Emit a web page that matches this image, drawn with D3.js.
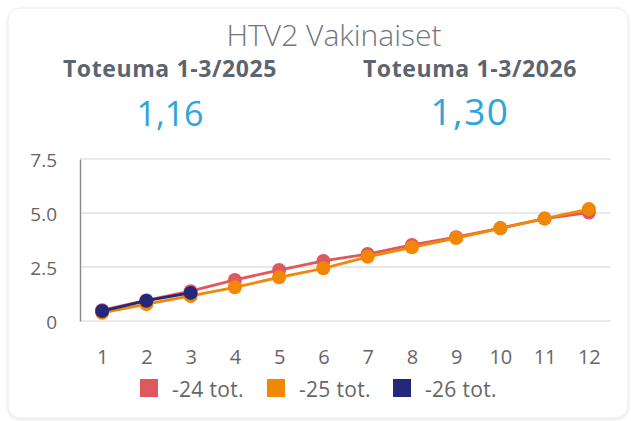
<!DOCTYPE html>
<html>
<head>
<meta charset="utf-8">
<script src="https://cdn.jsdelivr.net/npm/d3@7"></script>
<style>
  html, body { margin: 0; padding: 0; background: #fff; }
  svg { display: block; }
</style>
</head>
<body>
<svg id="chart" width="631" height="421"></svg>
<script>
// Months on the x axis
const months = [1, 2, 3, 4, 5, 6, 7, 8, 9, 10, 11, 12];
// Cumulative HTV2 values per series
const series24 = [0.50, 0.95, 1.38, 1.90, 2.36, 2.78, 3.10, 3.52, 3.88, 4.30, 4.74, 5.02];
const series25 = [0.38, 0.78, 1.16, 1.56, 2.02, 2.44, 2.97, 3.41, 3.84, 4.29, 4.74, 5.18];
const series26 = [0.46, 0.94, 1.30];
const seriesNames = ["-24 tot.", "-25 tot.", "-26 tot."];
const seriesColors = ["#e0575e", "#f28705", "#25287a"];
const yTicks = [0, 2.5, 5.0, 7.5];
const yTickLabels = ["0", "2.5", "5.0", "7.5"];
// Headline figures
const kpiLabels = ["Toteuma 1-3/2025", "Toteuma 1-3/2026"];
const kpiValues = ["1,16", "1,30"];

const svg = d3.select("#chart");
const font = "'Open Sans', 'Noto Sans', sans-serif";

// Card background
const defs = svg.append("defs");
const f = defs.append("filter").attr("id", "shadow").attr("x", "-5%").attr("y", "-5%").attr("width", "110%").attr("height", "110%");
f.append("feDropShadow").attr("dx", 0).attr("dy", 1).attr("stdDeviation", 1.5).attr("flood-color", "#000").attr("flood-opacity", 0.12);
svg.append("rect")
  .attr("x", 8).attr("y", 8).attr("width", 620).attr("height", 410)
  .attr("rx", 12).attr("fill", "#fff")
  .attr("stroke", "#ececec").attr("stroke-width", 1)
  .attr("filter", "url(#shadow)");

// Title
svg.append("text")
  .attr("x", 334).attr("y", 46).attr("text-anchor", "middle")
  .attr("font-family", font).attr("font-size", 30).attr("font-weight", 300)
  .attr("fill", "#6f7780")
  .text("HTV2 Vakinaiset");

// KPI labels and values
const kpiX = [170, 470];
const kpiSizes = [34, 37];
const kpiY = [126, 124.5];
kpiLabels.forEach((t, i) => {
  svg.append("text")
    .attr("x", kpiX[i]).attr("y", 77).attr("text-anchor", "middle")
    .attr("font-family", font).attr("font-size", 23).attr("font-weight", 700)
    .attr("fill", "#5b6570").attr("letter-spacing", 0.6)
    .text(t);
  svg.append("text")
    .attr("x", kpiX[i]).attr("y", kpiY[i]).attr("text-anchor", "middle")
    .attr("font-family", font).attr("font-size", kpiSizes[i])
    .attr("fill", "#2ba6dc").attr("letter-spacing", i === 1 ? 1.5 : 0)
    .text(kpiValues[i]);
});

// Plot scales
const plot = { left: 80, right: 611, top: 159, bottom: 321 };
const x = d3.scalePoint().domain(months).range([plot.left, plot.right]).padding(0.5);
const y = d3.scaleLinear().domain([0, 7.5]).range([plot.bottom, plot.top]);

// Horizontal gridlines
svg.append("g")
  .selectAll("line").data(yTicks).join("line")
  .attr("x1", plot.left).attr("x2", plot.right)
  .attr("y1", d => y(d)).attr("y2", d => y(d))
  .attr("stroke", "#d6d6d6").attr("stroke-width", 1.2);

// Y axis
const yAxis = svg.append("g")
  .attr("transform", `translate(${plot.left},0)`)
  .call(d3.axisLeft(y).tickValues(yTicks).tickSize(0).tickPadding(23)
    .tickFormat((d, i) => yTickLabels[i]));
yAxis.select(".domain").attr("stroke", "#8c8c8c").attr("stroke-width", 1.5);
yAxis.selectAll("text").attr("font-family", font).attr("font-size", 19)
  .attr("fill", "#666").attr("dy", "0.42em");

// X axis labels
const xAxis = svg.append("g")
  .attr("transform", `translate(0,${plot.bottom})`)
  .call(d3.axisBottom(x).tickSize(0).tickPadding(29));
xAxis.select(".domain").remove();
xAxis.selectAll("text").attr("font-family", font).attr("font-size", 20).attr("fill", "#666");

// Series lines and markers
const allSeries = [series24, series25, series26];
const line = d3.line().x((d, i) => x(months[i])).y(d => y(d));
allSeries.forEach((vals, s) => {
  const g = svg.append("g");
  g.append("path").datum(vals)
    .attr("d", line).attr("fill", "none")
    .attr("stroke", seriesColors[s]).attr("stroke-width", 2.8);
  g.selectAll("circle").data(vals).join("circle")
    .attr("cx", (d, i) => x(months[i])).attr("cy", d => y(d))
    .attr("r", 7).attr("fill", seriesColors[s]);
});

// Legend
const legendX = [140, 267, 393];
const legend = svg.append("g");
seriesNames.forEach((name, i) => {
  legend.append("rect")
    .attr("x", legendX[i]).attr("y", 379).attr("width", 18).attr("height", 18)
    .attr("fill", seriesColors[i]);
  legend.append("text")
    .attr("x", legendX[i] + 32).attr("y", 397)
    .attr("font-family", font).attr("font-size", 21).attr("fill", "#666")
    .attr("letter-spacing", 0.3)
    .text(name);
});
</script>
</body>
</html>
